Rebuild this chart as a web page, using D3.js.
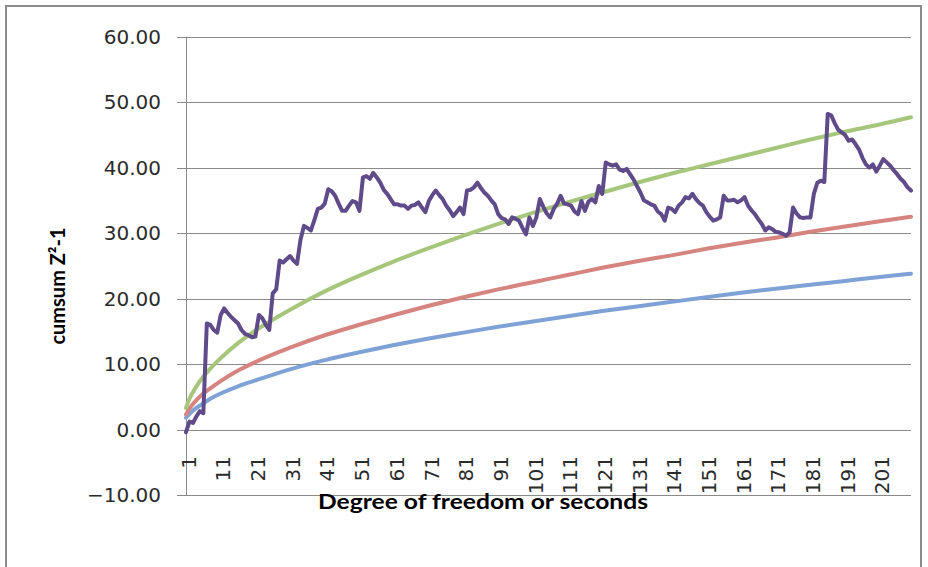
<!DOCTYPE html>
<html>
<head>
<meta charset="utf-8">
<script src="https://cdn.jsdelivr.net/npm/d3@7"></script>
<style>
  body { margin: 0; background: #fff; }
  svg { display: block; }
</style>
</head>
<body>
<div id="container"></div>
<script>
// chart size
const width = 928;
const height = 567;

// tick labels
const yTicks = [-10, 0, 10, 20, 30, 40, 50, 60];
const xTickLabels = ["1", "11", "21", "31", "41", "51", "61", "71", "81", "91", "101",
  "111", "121", "131", "141", "151", "161", "171", "181", "191", "201"];
const lastCategory = 210;

// cumsum Z^2-1, one value per second (1..210)
const cumsum = [
  -0.4, 1.2, 1.0, 2.0, 2.8, 2.5, 16.2, 16.0, 15.2, 14.8,
  17.5, 18.5, 17.8, 17.2, 16.7, 16.2, 15.2, 14.6, 14.4, 14.1,
  14.2, 17.5, 17.0, 16.0, 15.2, 20.8, 21.4, 25.8, 25.5, 26.0,
  26.5, 25.8, 25.3, 29.0, 31.1, 30.8, 30.4, 32.0, 33.7, 33.9,
  34.5, 36.7, 36.4, 35.7, 34.5, 33.4, 33.4, 34.2, 34.9, 34.7,
  33.4, 38.5, 38.7, 38.3, 39.2, 38.5, 37.7, 36.6, 36.0, 35.2,
  34.4, 34.4, 34.2, 34.2, 33.7, 34.2, 34.3, 34.7, 33.9, 33.2,
  34.9, 35.8, 36.5, 35.8, 35.2, 34.2, 33.5, 32.6, 33.2, 33.9,
  32.9, 36.5, 36.6, 37.0, 37.7, 36.9, 36.2, 35.7, 35.0, 34.4,
  32.9, 32.3, 32.1, 31.4, 32.4, 32.2, 31.9, 30.8, 29.8, 32.4,
  31.1, 32.4, 35.2, 34.0, 33.0, 32.4, 33.7, 34.5, 35.7, 34.5,
  34.4, 34.2, 33.3, 32.9, 34.9, 33.4, 34.8, 35.2, 34.7, 37.2,
  36.0, 40.8, 40.5, 40.3, 40.5, 39.7, 39.5, 39.8, 39.0, 38.2,
  37.2, 36.2, 35.0, 34.7, 34.4, 34.2, 33.3, 32.9, 31.9, 33.9,
  33.7, 33.2, 34.2, 34.7, 35.5, 35.3, 36.0, 35.2, 34.6, 34.2,
  33.2, 32.5, 31.9, 32.1, 32.4, 35.7, 35.0, 35.0, 35.1, 34.7,
  35.0, 35.5, 34.2, 33.5, 32.9, 32.1, 31.4, 30.4, 30.9, 30.6,
  30.2, 30.1, 29.9, 29.6, 30.1, 33.9, 33.0, 32.4, 32.3, 32.4,
  32.4, 36.0, 37.7, 38.0, 37.8, 48.2, 48.0, 46.8, 45.8, 45.4,
  45.0, 44.1, 44.3, 43.6, 42.8, 41.5, 40.5, 40.0, 40.5, 39.4,
  40.3, 41.3, 40.8, 40.3, 39.6, 39.0, 38.3, 37.8, 37.0, 36.5
];

// the three smooth limit curves, read at these seconds
const limitSeconds = [1, 2, 3, 4, 6, 8, 11, 16, 21, 31, 41, 51, 61, 71, 81, 91, 101,
  111, 121, 131, 141, 151, 161, 171, 181, 191, 201, 210];
const blueLimit = [1.8, 2.4, 2.9, 3.3, 4.0, 4.7, 5.5, 6.6, 7.5, 9.2, 10.6, 11.8, 12.9, 13.9,
  14.8, 15.7, 16.5, 17.3, 18.1, 18.8, 19.5, 20.2, 20.9, 21.5, 22.1, 22.7, 23.3, 23.8];
const redLimit = [2.3, 3.2, 3.9, 4.5, 5.5, 6.3, 7.4, 9.0, 10.3, 12.5, 14.4, 16.0, 17.5, 18.9,
  20.2, 21.4, 22.5, 23.6, 24.7, 25.7, 26.6, 27.6, 28.5, 29.3, 30.2, 31.0, 31.8, 32.5];
const greenLimit = [3.3, 4.7, 5.7, 6.6, 8.1, 9.3, 10.9, 13.2, 15.1, 18.3, 21.1, 23.5, 25.7, 27.7,
  29.6, 31.4, 33.1, 34.7, 36.2, 37.7, 39.1, 40.4, 41.7, 43.0, 44.3, 45.5, 46.6, 47.7];

const svg = d3.create("svg")
  .attr("width", width)
  .attr("height", height)
  .attr("viewBox", [0, 0, width, height]);

// outer chart border
svg.append("path")
  .attr("d", `M6,${height + 2}V6H921V${height + 2}`)
  .attr("fill", "none")
  .attr("stroke", "#8c8c8c")
  .attr("stroke-width", 2);

const x = d3.scaleLinear().domain([1, lastCategory]).range([186, 911]);
const y = d3.scaleLinear().domain([-10, 60]).range([495, 36.7]);

// gridlines + y ticks
svg.append("g")
  .selectAll("line")
  .data(yTicks)
  .join("line")
  .attr("x1", 177)
  .attr("x2", 911)
  .attr("y1", (d) => Math.round(y(d)) + 0.5)
  .attr("y2", (d) => Math.round(y(d)) + 0.5)
  .attr("stroke", "#8a8a8a")
  .attr("stroke-width", 1);

// y axis line
svg.append("line")
  .attr("x1", 186.5).attr("x2", 186.5)
  .attr("y1", y(60)).attr("y2", y(-10))
  .attr("stroke", "#8a8a8a");

svg.append("g")
  .attr("font-family", "DejaVu Sans")
  .attr("font-size", 20)
  .attr("fill", "#2b2b2b")
  .selectAll("text")
  .data(yTicks)
  .join("text")
  .attr("x", 161)
  .attr("y", (d) => y(d))
  .attr("dy", "0.36em")
  .attr("text-anchor", "end")
  .text((d) => d3.format(".2f")(d));

// x tick labels, rotated
svg.append("g")
  .attr("font-family", "DejaVu Sans")
  .attr("font-size", 20)
  .attr("fill", "#2b2b2b")
  .selectAll("text")
  .data(xTickLabels)
  .join("text")
  .attr("transform", (d) => `translate(${x(+d) + 2.5},456) rotate(-90)`)
  .attr("dy", "0.36em")
  .attr("text-anchor", "end")
  .text((d) => d);

// axis titles
svg.append("text")
  .attr("x", 318)
  .attr("y", 509)
  .attr("font-family", "Lato")
  .attr("font-weight", "bold")
  .attr("font-size", 21)
  .attr("textLength", 330)
  .attr("lengthAdjust", "spacingAndGlyphs")
  .attr("fill", "#000")
  .text("Degree of freedom or seconds");

svg.append("text")
  .attr("transform", "translate(65,286) rotate(-90)")
  .attr("text-anchor", "middle")
  .attr("font-family", "Lato")
  .attr("font-weight", "bold")
  .attr("font-size", 20)
  .attr("fill", "#000")
  .text("cumsum Z²-1");

// limit curves
const curveLine = d3.line()
  .x((d, i) => x(limitSeconds[i]))
  .y((d) => y(d))
  .curve(d3.curveMonotoneX);

const limits = [
  { values: blueLimit, color: "#7fa2d6" },
  { values: redLimit, color: "#d6847f" },
  { values: greenLimit, color: "#a6c67b" }
];

svg.append("g")
  .selectAll("path")
  .data(limits)
  .join("path")
  .attr("d", (d) => curveLine(d.values))
  .attr("fill", "none")
  .attr("stroke", (d) => d.color)
  .attr("stroke-width", 4)
  .attr("stroke-linecap", "round");

// cumsum series
svg.append("path")
  .attr("d", d3.line().x((d, i) => x(i + 1)).y((d) => y(d))(cumsum))
  .attr("fill", "none")
  .attr("stroke", "#5f4a8a")
  .attr("stroke-width", 4)
  .attr("stroke-linejoin", "round")
  .attr("stroke-linecap", "round");

container.append(svg.node());
</script>
</body>
</html>
